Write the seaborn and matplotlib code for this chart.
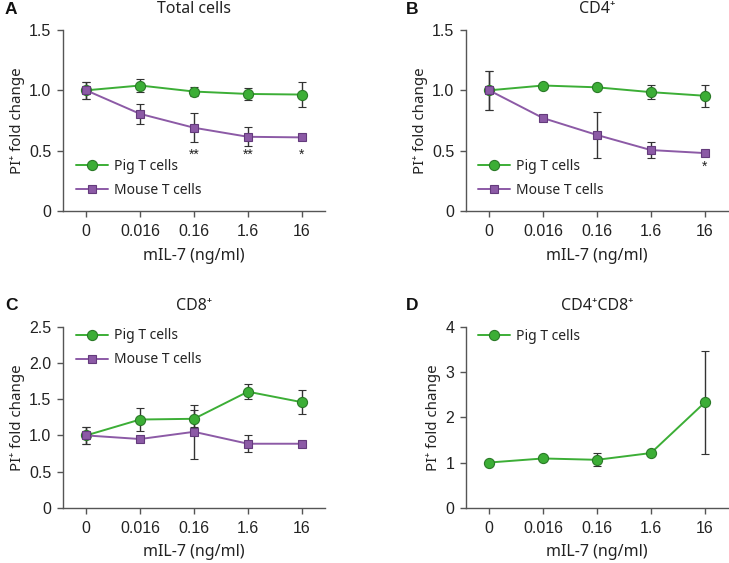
import numpy as np
import pandas as pd
import matplotlib
matplotlib.use("Agg")
import matplotlib.pyplot as plt
import seaborn as sns

# ---------------- data ----------------
doses = ["0", "0.016", "0.16", "1.6", "16"]

a_pig = [1.00, 1.04, 0.99, 0.97, 0.965]
a_pig_err = [0.07, 0.055, 0.04, 0.05, 0.10]
a_mouse = [1.00, 0.805, 0.69, 0.615, 0.61]
a_mouse_err = [0.07, 0.08, 0.12, 0.08, 0.01]
a_stars = ["", "", "**", "**", "*"]

b_pig = [1.00, 1.04, 1.025, 0.985, 0.955]
b_pig_err = [0.16, 0.01, 0.01, 0.058, 0.09]
b_mouse = [1.00, 0.77, 0.63, 0.505, 0.48]
b_mouse_err = [0.16, 0.01, 0.19, 0.068, 0.01]
b_stars = ["", "", "", "", "*"]

c_pig = [1.00, 1.22, 1.23, 1.605, 1.46]
c_pig_err = [0.115, 0.157, 0.12, 0.10, 0.17]
c_mouse = [1.00, 0.95, 1.05, 0.885, 0.885]
c_mouse_err = [0.115, 0.02, 0.37, 0.115, 0.02]

d_pig = [1.00, 1.09, 1.06, 1.21, 2.33]
d_pig_err = [0.03, 0.06, 0.14, 0.03, 1.14]

titles = ["Total cells", "CD4\u207a", "CD8\u207a", "CD4\u207aCD8\u207a"]
letters = ["A", "B", "C", "D"]
series_names = ["Pig T cells", "Mouse T cells"]

# ---------------- style ----------------
sns.set_style("ticks")
plt.rcParams["font.family"] = ["Noto Sans", "DejaVu Sans"]

GREEN = "#3cae36"
GREEN_E = "#2b7a28"
PURPLE = "#8c5aa6"
PURPLE_E = "#643b7c"
SPINE = "#555555"
TXT = "#222222"
TICKFONT = ["Liberation Sans", "DejaVu Sans"]

W, H = 729, 563
fig = plt.figure(figsize=(W / 100, H / 100), dpi=100)

def box(l, t, r, b):
    return [l / W, 1 - b / H, (r - l) / W, (b - t) / H]

axes = [
    fig.add_axes(box(63, 30, 325, 211)),
    fig.add_axes(box(466, 30, 728, 211)),
    fig.add_axes(box(63, 327, 325, 507.7)),
    fig.add_axes(box(466, 327, 728, 507.7)),
]

panels = [
    dict(pig=(a_pig, a_pig_err), mouse=(a_mouse, a_mouse_err), stars=a_stars,
         ylim=(0, 1.5), yticks=[0, 0.5, 1.0, 1.5], ylabels=["0", "0.5", "1.0", "1.5"],
         leg=(0.048, 0.18), star_y=0.47),
    dict(pig=(b_pig, b_pig_err), mouse=(b_mouse, b_mouse_err), stars=b_stars,
         ylim=(0, 1.5), yticks=[0, 0.5, 1.0, 1.5], ylabels=["0", "0.5", "1.0", "1.5"],
         leg=(0.046, 0.18), star_y=0.365),
    dict(pig=(c_pig, c_pig_err), mouse=(c_mouse, c_mouse_err), stars=None,
         ylim=(0, 2.5), yticks=[0, 0.5, 1.0, 1.5, 2.0, 2.5],
         ylabels=["0", "0.5", "1.0", "1.5", "2.0", "2.5"],
         leg=(0.048, 0.884), star_y=None),
    dict(pig=(d_pig, d_pig_err), mouse=None, stars=None,
         ylim=(0, 4), yticks=[0, 1, 2, 3, 4], ylabels=["0", "1", "2", "3", "4"],
         leg=(0.046, 0.95), star_y=None),
]

for i, (ax, p) in enumerate(zip(axes, panels)):
    rows = []
    for name, key in zip(series_names, ["pig", "mouse"]):
        if p[key] is None:
            continue
        vals, errs = p[key]
        for d, v, e in zip(doses, vals, errs):
            rows.append(dict(dose=d, value=v, err=e, series=name))
    df = pd.DataFrame(rows)
    present = [n for n in series_names if n in set(df["series"])]
    palette = {"Pig T cells": GREEN, "Mouse T cells": PURPLE}
    markers = {"Pig T cells": "o", "Mouse T cells": "s"}

    for name in present:
        sub = df[df["series"] == name]
        ax.errorbar(sub["dose"], sub["value"], yerr=sub["err"], fmt="none",
                    ecolor="#333333", elinewidth=1.0, capsize=3.0, capthick=1.0,
                    zorder=2)

    sns.lineplot(data=df, x="dose", y="value", hue="series", style="series",
                 hue_order=present, style_order=present, palette=palette,
                 markers=markers, dashes=False, sort=False, ax=ax,
                 linewidth=1.4, markersize=7, legend=True, zorder=3)

    for line in ax.get_lines():
        c = line.get_color()
        if matplotlib.colors.same_color(c, GREEN):
            line.set_markeredgecolor(GREEN_E)
            line.set_markerfacecolor(GREEN)
            line.set_markersize(7.3)
        elif matplotlib.colors.same_color(c, PURPLE):
            line.set_markeredgecolor(PURPLE_E)
            line.set_markerfacecolor(PURPLE)
            line.set_markersize(6.4)
        line.set_markeredgewidth(0.8)

    ax.set_xlim(-0.43, 4.43)
    ax.set_ylim(*p["ylim"])
    ax.set_yticks(p["yticks"])
    ax.set_yticklabels(p["ylabels"], fontsize=11.5, family=TICKFONT, color=TXT)
    ax.set_xticks(range(len(doses)))
    ax.set_xticklabels(doses, fontsize=11.5, family=TICKFONT, color=TXT)
    ax.tick_params(axis="both", direction="out", length=4.5, width=1.0,
                   color=SPINE)
    ax.tick_params(axis="y", pad=4)
    ax.tick_params(axis="x", pad=5)
    for s in ["top", "right"]:
        ax.spines[s].set_visible(False)
    for s in ["left", "bottom"]:
        ax.spines[s].set_color(SPINE)
        ax.spines[s].set_linewidth(1.0)

    ax.set_xlabel("mIL-7 (ng/ml)", fontsize=11.5, color=TXT, labelpad=6)
    ax.set_ylabel("PI\u207a fold change", fontsize=10.8, color=TXT, labelpad=3)
    ax.set_title(titles[i], fontsize=11.5, color=TXT, pad=12)

    handles, labels = ax.get_legend_handles_labels()
    leg = ax.legend(handles=handles, labels=labels, loc="center left",
                    bbox_to_anchor=p["leg"], frameon=False, fontsize=10,
                    handlelength=2.3, handletextpad=0.45, labelspacing=0.65,
                    borderpad=0, borderaxespad=0)
    for t in leg.get_texts():
        t.set_color(TXT)

    if p["stars"] is not None:
        for j, s in enumerate(p["stars"]):
            if s:
                ax.text(j, p["star_y"], s, ha="center", va="center",
                        fontsize=10, color=TXT, family=TICKFONT)

for (x, y), letter in zip([(5, 9), (406, 9), (5, 305), (406, 305)], letters):
    fig.text(x / W, 1 - y / H, letter, fontsize=12.5, fontweight="bold",
             family=TICKFONT, ha="left", va="center", color="#111111")

fig.savefig("out.png", dpi=100)
